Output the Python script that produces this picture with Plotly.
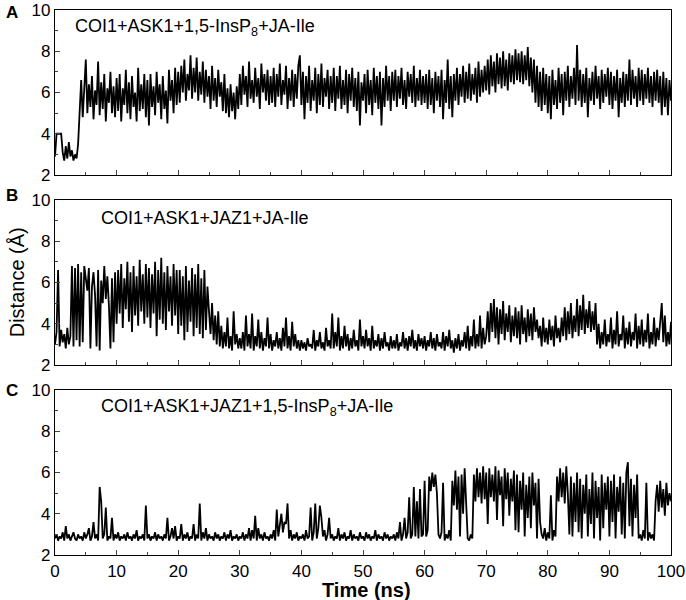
import plotly.graph_objects as go

dist_a = [
    2.9, 4.0, 4.0, 4.0, 4.0, 3.1, 2.7, 3.4, 2.8, 3.6, 2.9, 3.2, 2.7, 3.0, 2.8, 3.5, 5.3, 6.6, 4.8, 6.2,
    7.6, 5.0, 6.4, 5.3, 6.8, 4.7, 6.1, 5.4, 7.5, 4.9, 6.5, 5.2, 6.9, 4.6, 6.2, 5.5, 7.0, 5.0, 6.3, 4.8,
    6.7, 5.1, 6.9, 4.6, 6.2, 5.4, 7.1, 5.0, 6.5, 4.7, 6.8, 5.3, 6.0, 4.6, 7.2, 5.1, 6.4, 5.2, 6.9, 4.8,
    6.6, 4.4, 6.9, 5.3, 6.3, 4.9, 7.0, 5.5, 6.4, 4.7, 6.8, 5.2, 6.1, 4.5, 7.1, 5.6, 6.6, 5.0, 7.2, 5.4,
    7.0, 5.5, 7.3, 6.0, 7.6, 5.6, 6.9, 6.1, 7.8, 5.7, 7.2, 6.0, 7.7, 5.6, 7.0, 5.9, 7.5, 5.5, 7.1, 5.8,
    6.8, 5.2, 7.3, 5.6, 6.7, 5.3, 7.1, 5.8, 6.5, 5.1, 6.9, 5.0, 6.2, 4.8, 6.4, 5.1, 6.0, 4.7, 6.3, 5.2,
    6.9, 5.4, 7.3, 5.9, 6.8, 5.3, 7.5, 5.7, 6.6, 5.5, 7.2, 5.8, 6.7, 5.2, 7.4, 6.0, 6.9, 5.6, 7.1, 5.4,
    6.8, 5.5, 7.2, 5.3, 6.9, 5.8, 7.4, 5.4, 6.6, 5.9, 7.3, 5.2, 6.7, 5.6, 7.1, 5.3, 6.9, 5.7, 7.3, 7.8,
    5.4, 7.0, 4.7, 6.8, 5.5, 7.3, 5.1, 6.6, 5.6, 7.2, 5.0, 6.9, 5.4, 7.4, 5.3, 6.7, 5.8, 7.1, 5.2, 6.8,
    5.5, 7.2, 5.1, 6.8, 5.7, 7.3, 5.2, 6.6, 5.4, 7.1, 5.0, 6.9, 5.6, 7.2, 5.3, 6.7, 5.1, 7.0, 4.4, 6.5,
    5.6, 6.9, 5.0, 7.1, 5.4, 6.6, 4.9, 7.2, 5.5, 6.8, 5.2, 7.0, 4.4, 6.7, 5.3, 7.3, 5.6, 6.8, 5.1, 7.0,
    5.6, 7.1, 5.3, 6.8, 5.7, 7.2, 5.4, 6.6, 5.2, 7.0, 5.8, 6.9, 5.5, 7.3, 5.3, 6.7, 5.6, 7.1, 5.4, 6.8,
    5.5, 6.9, 5.2, 7.1, 5.4, 6.7, 5.0, 7.0, 5.6, 6.8, 5.3, 7.1, 4.7, 6.6, 5.5, 7.6, 5.2, 6.8, 4.8, 6.9,
    5.6, 7.2, 5.4, 6.9, 5.8, 7.3, 5.5, 7.0, 5.7, 7.4, 5.6, 6.9, 5.9, 7.2, 5.5, 7.5, 5.8, 7.1, 6.0, 7.3,
    6.1, 7.6, 5.9, 7.8, 6.3, 7.5, 6.0, 7.9, 6.4, 7.7, 6.2, 8.0, 6.3, 7.6, 6.1, 7.9, 6.5, 7.8, 6.4, 8.1,
    6.6, 7.9, 6.5, 8.0, 6.4, 7.8, 6.6, 8.2, 6.3, 7.7, 6.0, 7.6, 5.5, 7.3, 5.3, 7.0, 5.1, 7.2, 5.4, 6.9,
    5.0, 6.8, 4.7, 7.1, 5.4, 6.6, 5.2, 7.2, 5.5, 6.9, 4.9, 7.0, 5.6, 7.3, 5.3, 6.8, 5.7, 7.2, 5.4, 8.3,
    5.6, 7.1, 5.3, 6.9, 5.5, 7.2, 4.8, 6.7, 5.6, 7.0, 5.4, 7.3, 5.7, 6.8, 5.2, 7.1, 5.5, 6.9, 5.8, 7.2,
    5.4, 7.0, 5.2, 6.8, 5.6, 7.1, 4.8, 6.7, 5.5, 7.0, 5.3, 6.9, 5.6, 7.6, 5.4, 7.1, 5.7, 6.8, 5.3, 7.2,
    5.6, 7.1, 5.4, 6.9, 5.7, 7.2, 5.5, 6.8, 5.3, 7.0, 5.6, 7.1, 5.5, 6.8, 4.9, 7.0, 5.3, 6.7, 4.9, 6.6, 5.6,
]

dist_b = [
    3.0, 3.6, 6.6, 2.9, 3.7, 3.1, 3.5, 2.8, 3.8, 3.0, 3.4, 6.8, 2.9, 6.7, 3.2, 6.9, 2.9, 6.5, 3.1, 6.8,
    6.2, 5.6, 6.7, 2.8, 5.8, 6.5, 5.4, 2.9, 6.6, 2.7, 6.1, 5.0, 6.8, 5.2, 6.3, 4.9, 2.8, 6.2, 3.1, 6.5,
    4.0, 6.6, 4.5, 6.9, 3.8, 6.2, 4.7, 7.0, 4.1, 6.5, 3.6, 6.8, 4.4, 6.3, 3.9, 7.1, 4.6, 6.4, 4.0, 6.9,
    4.3, 6.7, 3.8, 6.4, 4.5, 7.0, 3.4, 6.6, 4.2, 7.2, 4.0, 6.5, 3.7, 6.8, 4.6, 6.3, 3.9, 6.9, 4.4, 6.6,
    3.5, 6.6, 3.9, 6.3, 3.2, 6.8, 3.6, 6.1, 4.1, 6.7, 3.4, 6.4, 3.8, 6.9, 3.5, 6.2, 3.3, 6.6, 3.7, 5.8,
    4.6, 3.5, 5.0, 3.2, 4.4, 3.0, 4.6, 2.9, 3.9, 2.8, 3.6, 2.9, 4.3, 2.8, 3.4, 2.7, 4.6, 3.0, 3.5, 2.8,
    3.3, 2.8, 3.6, 2.7, 4.4, 2.9, 3.5, 2.8, 4.5, 2.7, 3.4, 2.9, 4.2, 2.8, 3.6, 2.7, 3.3, 2.9, 4.3, 2.8,
    3.5, 2.7, 3.2, 2.9, 3.6, 2.8, 3.3, 2.7, 3.8, 2.9, 4.3, 2.8, 3.4, 2.7, 4.1, 2.9, 3.5, 2.8, 3.2, 2.7,
    3.2, 2.8, 3.1, 2.7, 3.3, 2.9, 3.0, 2.8, 3.7, 2.7, 3.2, 2.9, 3.6, 2.8, 3.1, 2.7, 3.8, 2.9, 3.2, 2.8,
    4.5, 2.8, 3.6, 2.9, 4.3, 2.7, 3.4, 2.8, 3.9, 2.9, 3.5, 2.7, 3.3, 2.8, 3.7, 2.9, 3.2, 2.7, 4.2, 2.9,
    3.4, 2.8, 3.7, 2.9, 3.3, 2.7, 3.9, 2.8, 3.2, 2.9, 3.5, 2.7, 3.3, 2.8, 3.6, 2.9, 3.1, 2.7, 3.4, 2.8,
    3.2, 2.8, 3.5, 2.7, 3.1, 2.9, 3.6, 2.8, 3.3, 2.7, 3.4, 2.9, 3.7, 2.8, 3.2, 2.7, 3.5, 2.9, 3.3, 2.8,
    3.4, 2.7, 3.2, 2.9, 3.6, 2.8, 3.3, 2.7, 3.5, 2.9, 3.1, 2.8, 3.6, 2.7, 3.4, 2.9, 3.7, 2.8, 3.2, 2.6,
    3.3, 2.8, 3.5, 2.7, 3.2, 2.9, 3.6, 2.8, 3.9, 2.7, 3.4, 2.9, 4.2, 2.8, 3.5, 2.9, 4.4, 2.8, 3.8, 3.0,
    3.4, 4.6, 3.1, 5.0, 3.6, 5.2, 3.3, 4.8, 3.0, 4.7, 3.5, 5.1, 3.2, 4.5, 3.6, 4.9, 3.1, 4.4, 3.4, 4.8,
    3.3, 4.6, 3.0, 4.9, 3.5, 4.3, 3.1, 4.7, 3.4, 4.5, 3.2, 4.8, 3.6, 4.2, 3.3, 3.9, 2.9, 4.3, 3.1, 3.8,
    3.0, 4.2, 3.2, 3.9, 2.9, 4.4, 3.3, 3.8, 3.1, 4.3, 3.4, 4.8, 3.2, 4.6, 3.5, 5.0, 3.3, 4.4, 3.6, 5.2,
    3.4, 4.9, 3.7, 5.4, 3.5, 4.7, 3.8, 5.1, 3.6, 4.6, 3.7, 5.0, 3.0, 4.0, 2.8, 3.6, 3.0, 4.2, 2.9, 3.5,
    3.1, 4.3, 2.8, 3.7, 3.0, 4.6, 2.9, 3.5, 3.2, 4.4, 2.8, 3.8, 3.0, 4.1, 2.9, 3.6, 3.2, 4.5, 2.8, 3.9,
    3.0, 4.2, 2.9, 3.7, 3.1, 4.5, 2.8, 3.6, 3.0, 4.3, 2.9, 3.8, 3.2, 4.0, 5.0, 3.1, 4.4, 2.9, 3.6, 3.0, 4.1,
]

dist_c = [
    2.8, 3.0, 2.7, 2.9, 2.8, 3.1, 2.7, 3.4, 2.8, 3.0, 2.7, 2.9, 3.1, 2.8, 2.7, 3.0, 2.8, 2.9, 2.7, 3.1,
    2.8, 3.0, 3.3, 2.7, 2.9, 3.6, 2.8, 3.0, 2.7, 5.3, 4.6, 2.8, 3.0, 4.3, 2.7, 2.9, 2.8, 3.8, 2.7, 3.0,
    2.8, 3.1, 2.7, 2.9, 2.8, 3.0, 2.7, 3.1, 2.8, 2.9, 2.7, 3.0, 2.8, 3.2, 2.7, 2.9, 2.8, 3.0, 2.7, 4.4,
    2.8, 3.0, 2.7, 2.9, 2.8, 3.1, 2.7, 3.0, 2.8, 2.9, 2.7, 3.0, 2.8, 3.8, 2.7, 2.9, 3.3, 2.8, 3.4, 2.7,
    2.9, 2.8, 3.5, 2.7, 3.0, 2.8, 3.1, 2.7, 2.9, 2.8, 3.5, 2.7, 3.0, 2.8, 4.5, 2.7, 3.1, 2.8, 3.3, 2.7,
    3.0, 2.8, 2.9, 2.7, 3.1, 2.8, 3.0, 2.7, 2.9, 2.8, 3.1, 2.7, 3.0, 2.8, 3.2, 2.7, 2.9, 2.8, 3.0, 2.7,
    2.9, 2.8, 3.1, 2.7, 3.0, 2.8, 3.3, 2.7, 3.2, 2.8, 3.9, 2.7, 3.3, 2.8, 3.0, 2.7, 3.1, 2.8, 2.9, 2.7,
    3.0, 2.8, 3.2, 2.7, 4.2, 2.9, 3.4, 4.0, 3.1, 3.6, 3.5, 4.5, 2.8, 3.2, 2.7, 3.0, 2.8, 3.1, 2.7, 2.9,
    2.8, 3.0, 2.7, 3.2, 2.8, 2.9, 4.3, 2.7, 3.1, 4.5, 2.8, 3.3, 4.4, 3.8, 2.9, 3.2, 2.7, 3.0, 3.8, 2.8,
    3.0, 2.7, 2.9, 2.8, 3.3, 2.7, 3.0, 2.8, 3.1, 2.7, 2.9, 2.8, 3.2, 2.7, 3.0, 2.8, 2.9, 2.7, 3.1, 2.8,
    2.9, 2.7, 3.1, 2.8, 3.0, 2.7, 2.9, 2.8, 3.2, 2.7, 3.0, 2.8, 2.9, 2.7, 3.1, 2.8, 3.0, 2.7, 2.9, 2.8,
    3.0, 2.7, 3.1, 2.8, 3.6, 2.7, 3.0, 3.8, 2.8, 3.1, 4.8, 2.8, 3.0, 5.3, 2.9, 4.6, 2.8, 5.2, 2.9, 3.0,
    5.6, 2.9, 3.2, 5.8, 5.1, 6.0, 5.3, 5.9, 5.0, 3.0, 2.8, 3.1, 5.5, 2.7, 3.0, 2.8, 3.2, 2.7, 5.6, 4.4,
    6.1, 4.2, 5.8, 2.9, 5.9, 4.0, 6.2, 4.5, 2.8, 2.7, 3.0, 2.8, 5.9, 4.6, 6.2, 4.8, 6.0, 4.5, 6.3, 4.7,
    6.0, 3.5, 6.2, 4.8, 5.9, 4.6, 6.3, 3.7, 6.1, 4.9, 5.8, 3.4, 6.2, 4.7, 6.0, 3.9, 5.7, 4.6, 6.1, 3.2,
    5.9, 3.1, 5.6, 4.2, 6.0, 2.9, 5.4, 3.8, 5.8, 3.3, 6.0, 4.4, 5.5, 2.8, 5.7, 3.6, 3.0, 2.8, 3.3, 2.7,
    3.1, 2.8, 4.9, 2.7, 3.2, 2.9, 5.8, 4.6, 6.2, 4.8, 6.0, 4.5, 6.3, 5.0, 3.0, 5.8, 2.9, 5.5, 3.6, 6.0,
    3.1, 5.7, 2.8, 5.4, 4.0, 5.9, 2.9, 5.2, 3.5, 6.0, 2.8, 5.6, 3.8, 5.3, 2.7, 5.9, 3.3, 5.5, 4.2, 5.8,
    2.9, 5.6, 3.6, 5.9, 2.8, 5.3, 4.1, 5.8, 3.0, 5.5, 2.8, 6.0, 6.5, 3.4, 5.7, 2.9, 5.4, 3.8, 5.9, 2.8,
    3.0, 2.7, 3.2, 2.8, 5.5, 2.7, 3.1, 2.8, 3.0, 2.7, 4.6, 5.4, 4.1, 5.6, 4.3, 5.2, 3.9, 5.5, 4.4, 5.0, 4.6,
]

step_ns = 0.25
labels = [
    "COI1+ASK1+1,5-InsP<sub>8</sub>+JA-Ile",
    "COI1+ASK1+JAZ1+JA-Ile",
    "COI1+ASK1+JAZ1+1,5-InsP<sub>8</sub>+JA-Ile",
]
panel_letters = ["A", "B", "C"]

FONT = "Liberation Sans, Arial, sans-serif"

fig = go.Figure()

# top panel -> axis 3, middle -> 2, bottom -> 1
series = [dist_a, dist_b, dist_c]
axis_ids = ["3", "2", ""]
for d, ax in zip(series, axis_ids):
    t = [i * step_ns for i in range(len(d))]
    fig.add_trace(
        go.Scatter(
            x=t, y=d, mode="lines",
            line=dict(color="black", width=1.8),
            xaxis="x" + ax, yaxis="y" + ax,
            showlegend=False, hoverinfo="skip",
        )
    )

# domains in paper space: plot area 545 px, panels 165 px, gaps 25 px
domains = {"": [0, 0.3028], "2": [0.3486, 0.6514], "3": [0.6972, 1.0]}

base_x = dict(
    range=[0, 100], dtick=10, ticks="inside", ticklen=5, tickwidth=1,
    showline=True, mirror=True, linecolor="black", linewidth=1.3,
    showgrid=False, zeroline=False, automargin=False,
    minor=dict(ticks="inside", ticklen=3, dtick=5, tickwidth=1, showgrid=False),
    tickfont=dict(family=FONT, size=17, color="black"),
)
base_y = dict(
    range=[2, 10], dtick=2, ticks="inside", ticklen=5, tickwidth=1,
    showline=True, mirror=True, linecolor="black", linewidth=1.3,
    showgrid=False, zeroline=False, automargin=False,
    minor=dict(ticks="inside", ticklen=3, dtick=1, tickwidth=1, showgrid=False),
    tickfont=dict(family=FONT, size=17, color="black"),
)

layout = {}
for ax in axis_ids:
    xa = dict(base_x, anchor="y" + ax, domain=[0, 1])
    if ax != "":
        xa["showticklabels"] = False
        xa["matches"] = "x"
    layout["xaxis" + ax] = xa
    layout["yaxis" + ax] = dict(base_y, anchor="x" + ax, domain=domains[ax])

fig.update_layout(**layout)

annotations = []
text_x = [2.9, 7.1, 7.1]
for lab, ax, tx in zip(labels, axis_ids, text_x):
    annotations.append(dict(
        x=tx, y=9.15, xref="x" + ax, yref="y" + ax, text=lab,
        showarrow=False, xanchor="left", yanchor="middle",
        font=dict(family=FONT, size=18, color="black"),
    ))

letter_y = [0.9945, 0.659, 0.301]
for letter, ly in zip(panel_letters, letter_y):
    annotations.append(dict(
        x=-0.0698, y=ly, xref="paper", yref="paper", text="<b>" + letter + "</b>",
        showarrow=False, xanchor="center", yanchor="middle",
        font=dict(family=FONT, size=17, color="black"),
    ))

annotations.append(dict(
    x=-0.062, y=0.5, xref="paper", yref="paper", text="Distance (Å)",
    showarrow=False, textangle=-90, xanchor="center", yanchor="middle",
    font=dict(family=FONT, size=20, color="black"),
))
annotations.append(dict(
    x=0.505, y=-0.04, xref="paper", yref="paper", text="<b>Time (ns)</b>",
    showarrow=False, xanchor="center", yanchor="top",
    font=dict(family=FONT, size=20, color="black"),
))

fig.update_layout(
    width=686,
    height=600,
    margin=dict(l=55, r=15, t=10, b=45),
    paper_bgcolor="white",
    plot_bgcolor="white",
    annotations=annotations,
)

# drop the default 8 px body margin so the figure sits at the page corner
fig.write_html(
    "out.html",
    config={"displayModeBar": False},
    post_script="document.body.style.margin='0';",
)
